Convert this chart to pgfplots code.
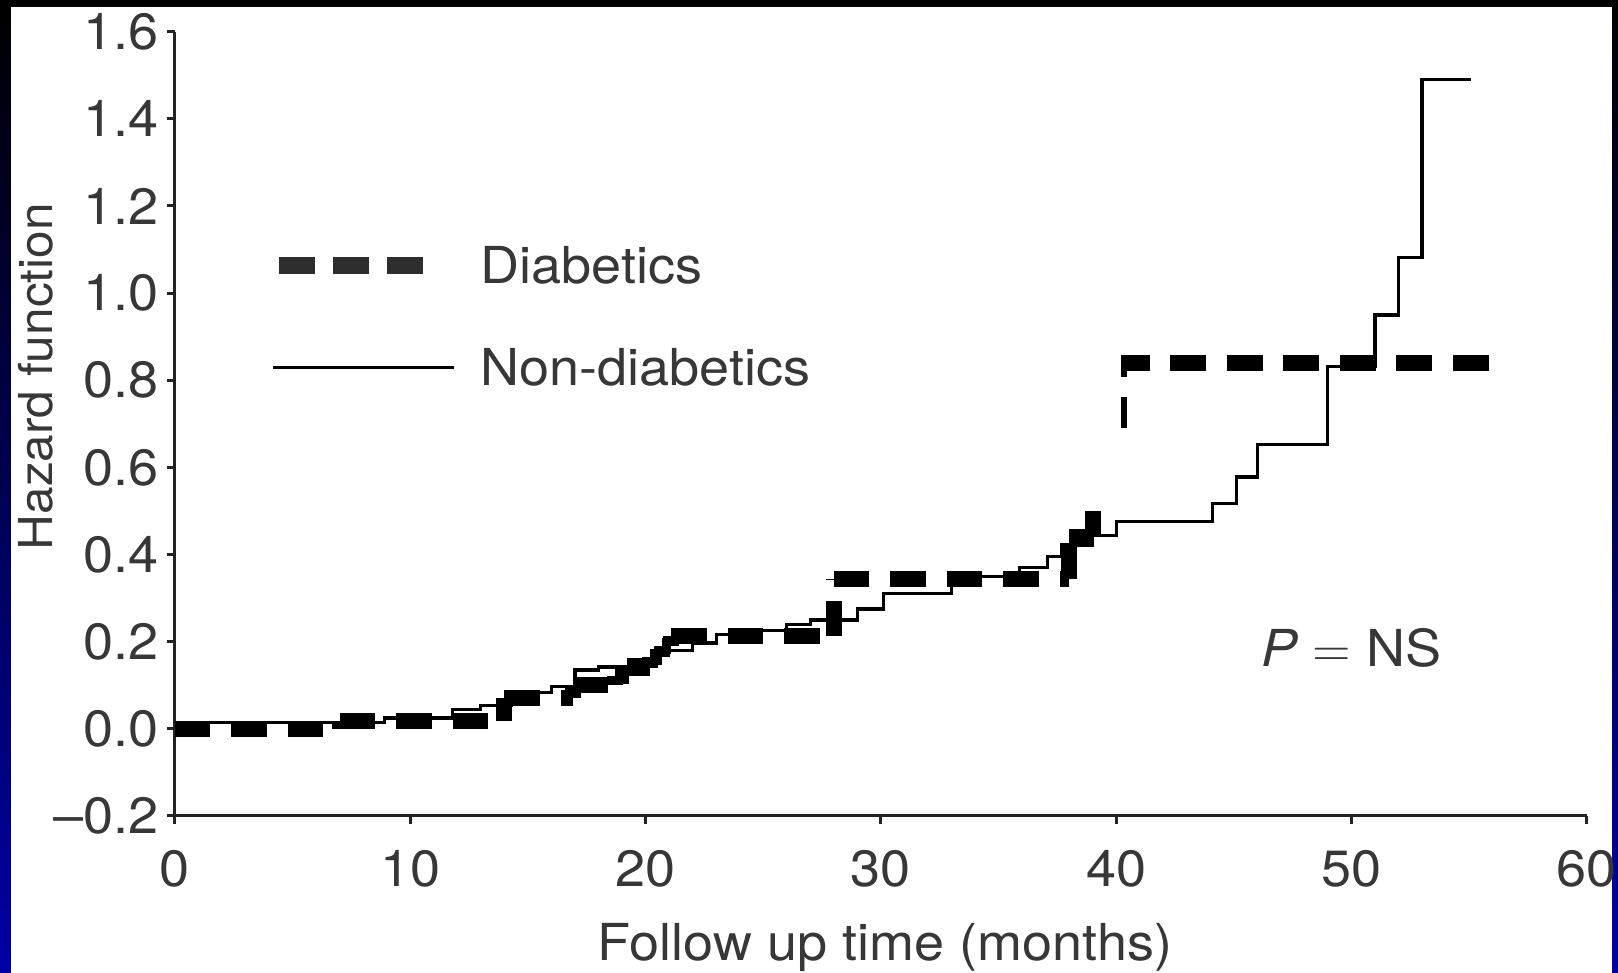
\documentclass[border=0pt]{standalone}
\usepackage{pgfplots}
\pgfplotsset{compat=1.18}
\usepackage{fontspec}
\setmainfont{TeX Gyre Heros}[FakeStretch=1.06]
\definecolor{txt}{RGB}{55,55,55}
\definecolor{axisgray}{RGB}{35,35,35}
\definecolor{legdark}{RGB}{45,45,45}
\definecolor{slideblue}{RGB}{0,0,165}
\newcommand{\chartfont}{\fontsize{14.5}{17}\selectfont}

\begin{document}
\begin{tikzpicture}
% slide background with white chart panel
\shade[top color=black, bottom color=slideblue] (0,0) rectangle (161.8mm,97.3mm);
\fill[white] (1.15mm,0) rectangle (161.2mm,96.6mm);

\begin{axis}[
  at={(17.5mm,15.7mm)}, anchor=south west,
  scale only axis, width=141.17mm, height=78.43mm,
  xmin=0, xmax=60, ymin=-0.2, ymax=1.6,
  axis lines=left,
  axis line style={-, line width=0.3mm, color=axisgray},
  tick style={line width=0.3mm, color=axisgray},
  tick align=outside, major tick length=0.8mm,
  xtick={0,10,20,30,40,50,60},
  xticklabels={0,10,20,30,40,50,60},
  ytick={-0.2,0,0.2,0.4,0.6,0.8,1.0,1.2,1.4,1.6},
  yticklabels={–0.2,0.0,0.2,0.4,0.6,0.8,1.0,1.2,1.4,1.6},
  tick label style={font=\chartfont, text=txt},
  xticklabel style={anchor=base, yshift=-6.3mm},
  yticklabel style={xshift=0.4mm},
  xlabel={Follow up time (months)},
  ylabel={Hazard function},
  label style={font=\chartfont, text=txt},
  xlabel style={at={(axis description cs:0.503,-0.168)}, anchor=center},
  ylabel style={at={(axis description cs:-0.0985,0.56)}, anchor=center,
                font=\fontsize{13.3}{16}\selectfont},
  clip=false,
  unbounded coords=jump,
  line join=miter, line cap=butt,
]

% Non-diabetics: cumulative hazard, step function
\addplot[const plot, line width=0.32mm, black] coordinates {
  (0,0.015) (8.9,0.025) (11.8,0.044) (13.0,0.053) (14.3,0.07) (15.3,0.083)
  (16.0,0.097) (17.0,0.135) (18.0,0.142) (19.3,0.16) (20.3,0.18) (22.0,0.197)
  (23.0,0.216) (24.0,0.226) (26.0,0.239) (27.0,0.25) (29.0,0.275) (30.1,0.311)
  (33.0,0.35) (35.9,0.37) (37.1,0.395) (37.7,0.422) (39.0,0.443) (40.0,0.476)
  (44.1,0.518) (45.1,0.578) (46.0,0.652) (49.0,0.832) (51.0,0.95) (52.0,1.081)
  (53.0,1.49) (55.1,1.49)
};

% Diabetics: heavy dashed step function, every horizontal and vertical
% piece is its own subpath so the dash pattern starts afresh at each step
\addplot[line width=1.6mm, black, dash pattern=on 3.55mm off 2.1mm] coordinates {
  (0,0) (7.0,0) (7.0,nan)
  (7.0,0) (7.0,0.019) (7.0,nan)
  (7.0,0.019) (14.0,0.019) (14.0,nan)
  (14.0,0.019) (14.0,0.071) (14.0,nan)
  (14.0,0.071) (16.9,0.071) (16.9,nan)
  (16.9,0.071) (16.9,0.101) (16.9,nan)
  (16.9,0.101) (18.7,0.101) (18.7,nan)
  (18.7,0.101) (18.7,0.121) (18.7,nan)
  (18.7,0.121) (19.3,0.121) (19.3,nan)
  (19.3,0.121) (19.3,0.139) (19.3,nan)
  (19.3,0.139) (20.2,0.139) (20.2,nan)
  (20.2,0.139) (20.2,0.166) (20.2,nan)
  (20.2,0.166) (20.7,0.166) (20.7,nan)
  (20.7,0.166) (20.7,0.19) (20.7,nan)
  (20.7,0.19) (21.1,0.19) (21.1,nan)
  (21.1,0.19) (21.1,0.212) (21.1,nan)
  (21.1,0.212) (28.0,0.212) (28.0,nan)
  (28.0,0.212) (28.0,0.344) (28.0,nan)
  (28.0,0.344) (38.0,0.344) (38.0,nan)
  (38.0,0.344) (38.0,0.441) (38.0,nan)
  (38.0,0.441) (39.0,0.441) (39.0,nan)
  (39.0,0.441) (39.0,0.50)
};
\addplot[line width=0.6mm, black, dash pattern=on 3.1mm off 2.0mm] coordinates {
  (40.35,0.69) (40.35,0.857)
};
\addplot[line width=1.6mm, black, dash pattern=on 3.6mm off 2.05mm, dash phase=0.8mm] coordinates {
  (40.25,0.839) (55.89,0.839)
};

% legend keys and entries
\draw[line width=1.7mm, legdark, dash pattern=on 3.6mm off 1.8mm]
  (axis cs:4.42,1.063) -- (axis cs:10.54,1.063);
\node[anchor=west, inner sep=0pt, font=\chartfont, text=txt] at (axis cs:12.96,1.063) {Diabetics};
\draw[line width=0.32mm, black]
  (axis cs:4.16,0.829) -- (axis cs:11.86,0.829);
\node[anchor=west, inner sep=0pt, font=\chartfont, text=txt] at (axis cs:12.96,0.829) {Non-diabetics};

\node[anchor=base west, inner sep=0pt, font=\chartfont, text=txt] at (axis cs:46.15,0.142) {{\itshape P} $=$ NS};
\end{axis}

\pgfresetboundingbox
\useasboundingbox (0,0) rectangle (161.8mm,97.3mm);
\end{tikzpicture}
\end{document}
